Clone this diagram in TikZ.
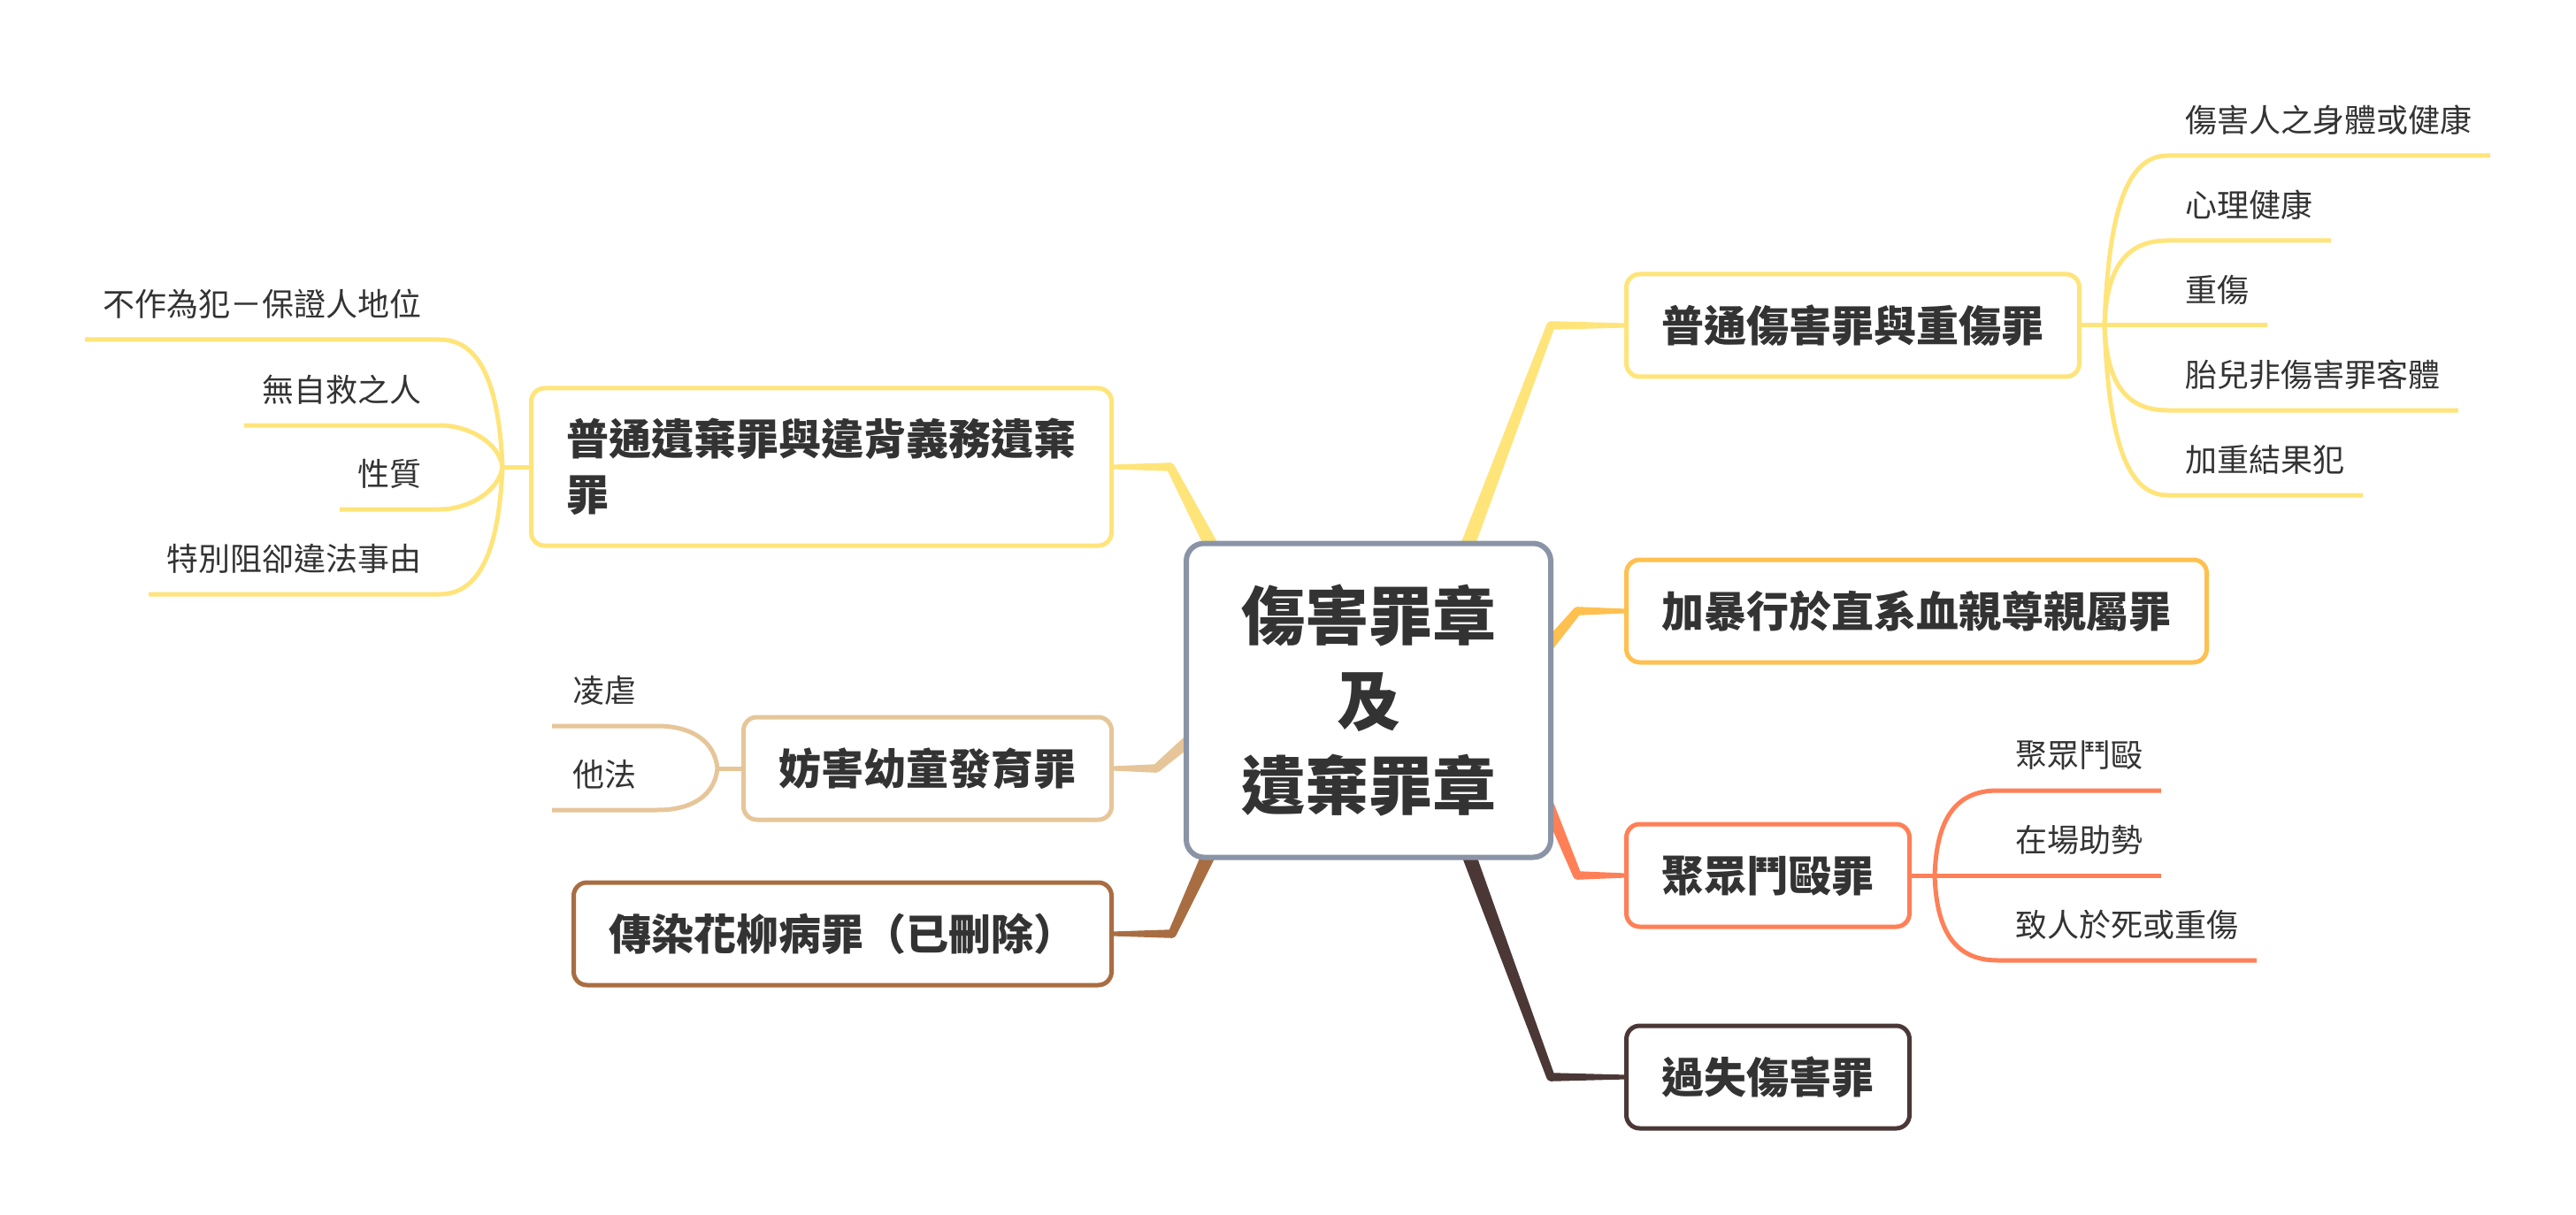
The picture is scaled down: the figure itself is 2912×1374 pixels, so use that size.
\documentclass[tikz,border=0pt]{standalone}
\usepackage{fontspec}
\newfontfamily\cjk{Noto Sans CJK TC}
\usetikzlibrary{calc}
\definecolor{cgray}{HTML}{8A94A6}
\definecolor{cyel}{HTML}{FFE47A}
\definecolor{corg}{HTML}{FFC04F}
\definecolor{ccor}{HTML}{FF7F57}
\definecolor{cdk}{HTML}{4B3836}
\definecolor{ctan}{HTML}{E6C699}
\definecolor{cbr}{HTML}{A96D42}
\definecolor{ctxt}{HTML}{333333}
\pgfdeclarelayer{bg}
\pgfsetlayers{bg,main}
\newcommand\mmtaper[5]{%
  \fill[#1] ($(#2)!#4!90:(#3)$) -- ($(#3)!#5!-90:(#2)$) -- ($(#3)!#5!90:(#2)$) -- ($(#2)!#4!-90:(#3)$) -- cycle;}
\newcommand\mmbranch[6]{%
  \mmtaper{#1}{#2}{#3}{#5}{#6}%
  \mmtaper{#1}{#3}{#4}{#6}{1.3pt}%
  \fill[#1] (#3) circle (#6);}
\begin{document}
\begin{tikzpicture}[x=0.5pt,y=-0.5pt,
  centerbox/.style={draw=cgray, line width=3pt, rounded corners=10pt, fill=white,
    minimum width=206pt, minimum height=177.5pt, align=center, text=ctxt,
    font=\cjk\bfseries\fontsize{36pt}{48pt}\selectfont},
  topicbase/.style={draw=#1, line width=2.5pt, rounded corners=7.5pt, fill=white,
    inner xsep=20pt, text=ctxt, font=\cjk\bfseries\fontsize{24pt}{31.5pt}\selectfont},
  topic/.style={topicbase=#1, minimum height=58pt, text height=21.12pt, text depth=2.88pt},
  sub/.style={inner xsep=10pt, inner ysep=11pt, text=ctxt,
    font=\cjk\fontsize{18pt}{22pt}\selectfont, text height=15.84pt, text depth=2.16pt},
  subl/.style={draw=#1, line width=2.5pt, line join=round}
]
\useasboundingbox (0,0) rectangle (2912,1374);

% central and main topics
\node[centerbox] (c) at (1547,792) {傷害罪章\\及\\遺棄罪章};
\node[topic=cyel, anchor=west] (t1) at (1836,368) {普通傷害罪與重傷罪};
\node[topic=corg, anchor=west] (t2) at (1836,691) {加暴行於直系血親尊親屬罪};
\node[topic=ccor, anchor=west] (t3) at (1836,990) {聚眾鬥毆罪};
\node[topic=cdk, anchor=west] (t4) at (1836,1218) {過失傷害罪};
\node[topicbase=cyel, anchor=east, align=left, minimum height=89pt] (t5) at (1259,528) {普通遺棄罪與違背義務遺棄\\罪};
\node[topic=ctan, anchor=east] (t6) at (1259,869) {妨害幼童發育罪};
\node[topic=cbr, anchor=east] (t7) at (1259,1056) {傳染花柳病罪（已刪除）};

% subtopics
\node[sub, anchor=south west] (s11) at (2450,176) {傷害人之身體或健康};
\node[sub, anchor=south west] (s12) at (2450,272) {心理健康};
\node[sub, anchor=south west] (s13) at (2450,368) {重傷};
\node[sub, anchor=south west] (s14) at (2450,464) {胎兒非傷害罪客體};
\node[sub, anchor=south west] (s15) at (2450,560) {加重結果犯};

\node[sub, anchor=south west] (s31) at (2258,894) {聚眾鬥毆};
\node[sub, anchor=south west] (s32) at (2258,990) {在場助勢};
\node[sub, anchor=south west] (s33) at (2258,1086) {致人於死或重傷};

\node[sub, anchor=south east] (s51) at (497,384) {不作為犯－保證人地位};
\node[sub, anchor=south east] (s52) at (497,481) {無自救之人};
\node[sub, anchor=south east] (s53) at (497,576) {性質};
\node[sub, anchor=south east] (s54) at (497,672) {特別阻卻違法事由};

\node[sub, anchor=south east, inner xsep=11.5pt] (s61) at (743,821) {凌虐};
\node[sub, anchor=south east, inner xsep=11.5pt] (s62) at (743,916) {他法};

% junctions and elbows
\coordinate (j1) at ($(t1.east)+(26,0)$);
\coordinate (j3) at ($(t3.east)+(26,0)$);
\coordinate (j5) at ($(t5.west)+(-30,0)$);
\coordinate (j6) at ($(t6.west)+(-27,0)$);

\coordinate (a1) at (1657,622);  \coordinate (e1) at (1753,368);
\coordinate (a2) at (1746,735);  \coordinate (e2) at (1783,691);
\coordinate (a3) at (1747,903);  \coordinate (e3) at (1783,990);
\coordinate (a4) at (1659,963);  \coordinate (e4) at (1753,1218);
\coordinate (a5) at (1372,622);  \coordinate (e5) at (1323,528);
\coordinate (a6) at (1348,834);  \coordinate (e6) at (1307,869);
\coordinate (a7) at (1368,963);  \coordinate (e7) at (1325,1056);

\begin{pgfonlayer}{bg}
\fill[white] (0,0) rectangle (2912,1374);
% main branches
\mmbranch{cyel}{a1}{e1}{t1.west}{4pt}{2.4pt}
\mmbranch{corg}{a2}{e2}{t2.west}{3.4pt}{2.4pt}
\mmbranch{ccor}{a3}{e3}{t3.west}{3.4pt}{2.4pt}
\mmbranch{cdk}{a4}{e4}{t4.west}{4pt}{2.4pt}
\mmbranch{cyel}{a5}{e5}{t5.east}{4pt}{2.4pt}
\mmbranch{ctan}{a6}{e6}{t6.east}{3.4pt}{2.4pt}
\mmbranch{cbr}{a7}{e7}{t7.east}{4pt}{2.4pt}

% sub branches of t1
\draw[subl=cyel] (t1.east) -- (j1);
\draw[subl=cyel] (j1) .. controls +(4,-115) and +(-50,0) .. (s11.south west) -- (s11.south east);
\draw[subl=cyel] (j1) .. controls +(2,-60) and +(-50,0) .. (s12.south west) -- (s12.south east);
\draw[subl=cyel] (j1) -- (s13.south west) -- (s13.south east);
\draw[subl=cyel] (j1) .. controls +(2,60) and +(-50,0) .. (s14.south west) -- (s14.south east);
\draw[subl=cyel] (j1) .. controls +(4,115) and +(-50,0) .. (s15.south west) -- (s15.south east);

% sub branches of t3
\draw[subl=ccor] (t3.east) -- (j3);
\draw[subl=ccor] (j3) .. controls +(2,-60) and +(-50,0) .. (s31.south west) -- (s31.south east);
\draw[subl=ccor] (j3) -- (s32.south west) -- (s32.south east);
\draw[subl=ccor] (j3) .. controls +(2,60) and +(-50,0) .. (s33.south west) -- (s33.south east);

% sub branches of t5
\draw[subl=cyel] (t5.west) -- (j5);
\draw[subl=cyel] (j5) .. controls +(-4,-95) and +(45,0) .. (s51.south east) -- (s51.south west);
\draw[subl=cyel] (j5) .. controls +(-4,-28) and +(32,0) .. (s52.south east) -- (s52.south west);
\draw[subl=cyel] (j5) .. controls +(-4,28) and +(32,0) .. (s53.south east) -- (s53.south west);
\draw[subl=cyel] (j5) .. controls +(-4,95) and +(45,0) .. (s54.south east) -- (s54.south west);

% sub branches of t6
\draw[subl=ctan] (t6.west) -- (j6);
\draw[subl=ctan] (j6) .. controls +(-3,-30) and +(40,0) .. (s61.south east) -- (s61.south west);
\draw[subl=ctan] (j6) .. controls +(-3,30) and +(40,0) .. (s62.south east) -- (s62.south west);
\end{pgfonlayer}
\end{tikzpicture}
\end{document}
